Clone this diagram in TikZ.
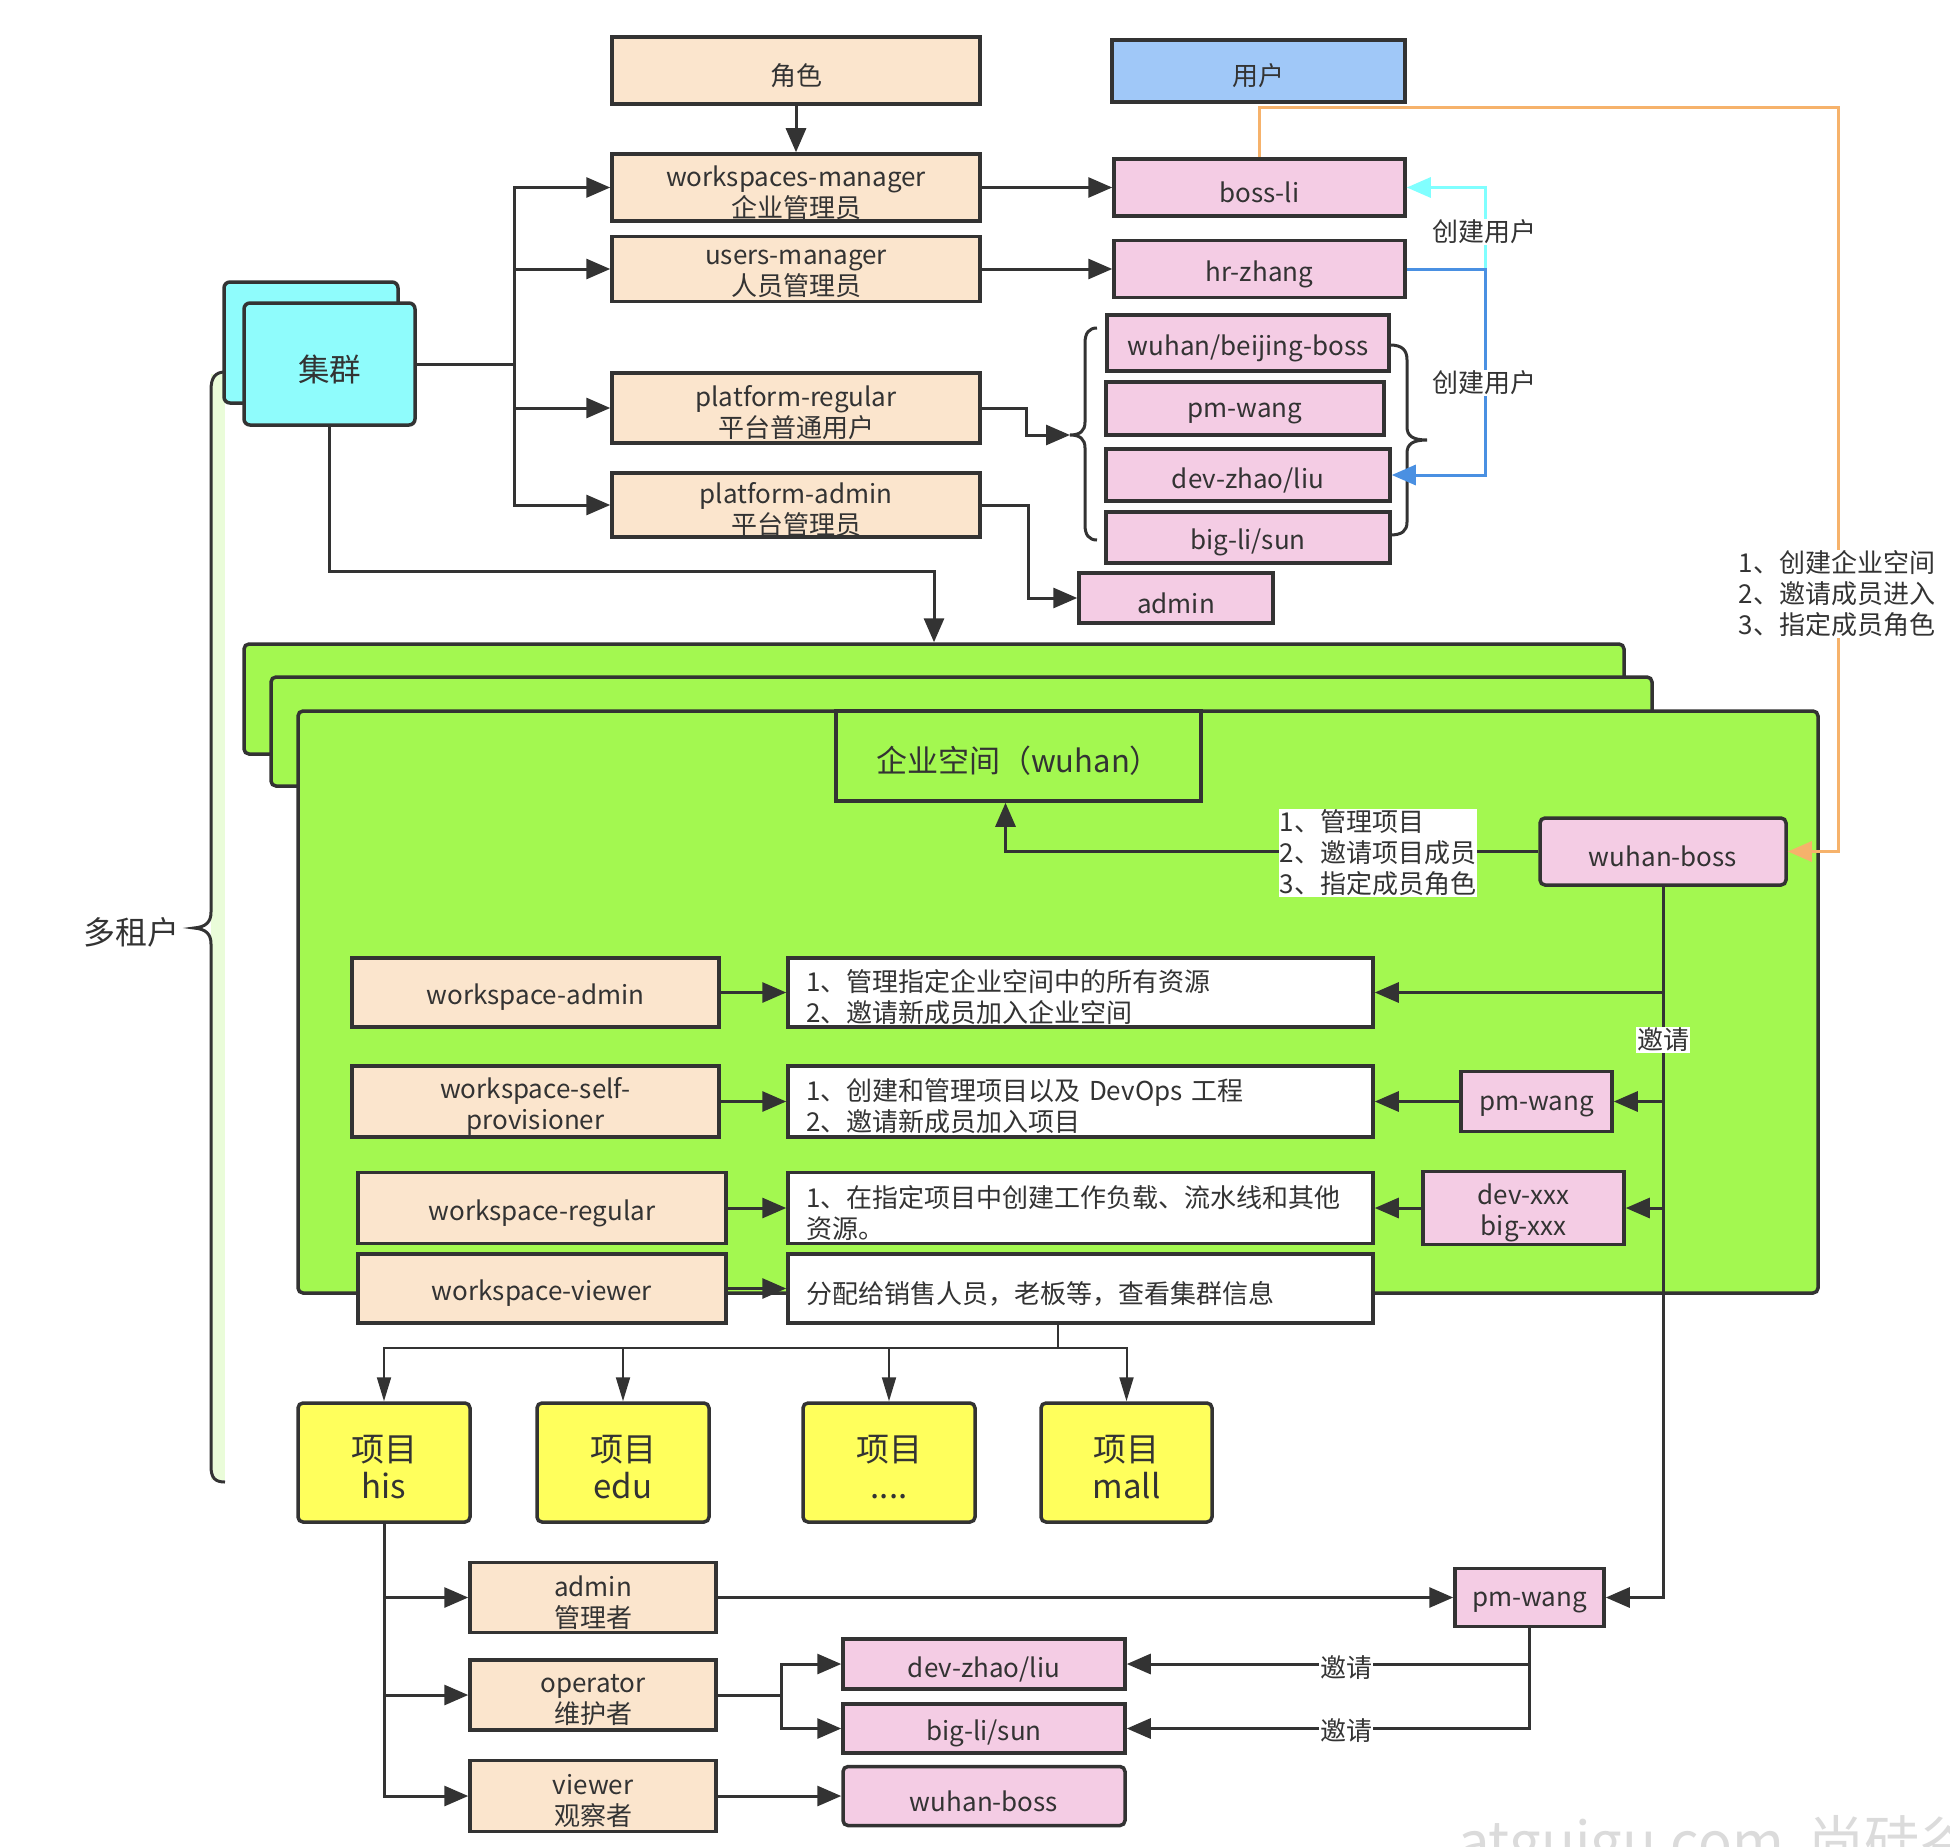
\documentclass[tikz,border=0pt]{standalone}
\usepackage{fontspec}
\setmainfont{Noto Sans CJK SC}
\usetikzlibrary{arrows.meta}
\definecolor{lc}{HTML}{333333}
\definecolor{tc}{HTML}{333333}
\definecolor{peach}{HTML}{FBE5CD}
\definecolor{pinkc}{HTML}{F4CCE4}
\definecolor{userblue}{HTML}{A0C8F8}
\definecolor{cyanc}{HTML}{8FFCFC}
\definecolor{greenc}{HTML}{A3F850}
\definecolor{yellowc}{HTML}{FFFF5C}
\definecolor{strip}{HTML}{EAFCD9}
\definecolor{orangel}{HTML}{F6B26B}
\definecolor{cyanl}{HTML}{80FFFF}
\definecolor{bluel}{HTML}{4A90E2}
\tikzset{
  sz/.style 2 args={minimum width=#1pt, minimum height=#2pt},
  box/.style={draw=lc, line width=3.5pt, inner sep=0pt, align=center, text=tc,
    font=\fontsize{26}{31}\selectfont},
  peachbox/.style={box, fill=peach},
  pinkbox/.style={box, fill=pinkc},
  whitebox/.style={box, fill=white, align=left, text width=#1pt},
  greenbox/.style={box, fill=greenc, rounded corners=5pt},
  projbox/.style={box, fill=yellowc, rounded corners=5pt, font=\fontsize{33}{37}\selectfont},
  lbl/.style={fill=white, inner sep=1pt, text=tc, align=left, font=\fontsize{26}{31}\selectfont},
  ln/.style={draw=lc, line width=3pt},
  arr/.style={draw=lc, line width=3pt, -{Triangle[length=24pt,width=20pt]}},
  tarr/.style={draw=lc, line width=2pt, -{Triangle[length=24pt,width=14pt]}},
}
% #1 style, #2 name, #3 x, #4 y, #5 w, #6 h, #7 text
\newcommand{\mkbox}[7]{%
  \node[#1, sz={#5}{#6}] (#2) at (#3,#4) {};
  \node[#1, draw=none, fill=none, inner sep=0pt] (#2-t) at ([yshift=-5pt]#2.center) {#7};
}
\begin{document}
\begin{tikzpicture}[x=1pt,y=-1pt]
\useasboundingbox (0,0) rectangle (1950,1846);
\fill[white] (0,0) rectangle (1950,1846);

% watermark
\begin{scope}
\clip (0,0) rectangle (1950,1846);
\node[anchor=base west, text=black!14, font=\fontsize{56}{60}\selectfont, inner sep=0pt] (wm) at (1458,1862) {atguigu.com\ \ 尚硅谷};
\end{scope}

% multi-tenant brace
\fill[strip] (211,374) rectangle (225,1480);
\draw[lc, line width=3pt] (225,372) .. controls (215,372) and (211,378) .. (211,390) -- (211,912)
  .. controls (211,922) and (206,927) .. (194,928) .. controls (206,929) and (211,934) .. (211,944)
  -- (211,1466) .. controls (211,1478) and (215,1482) .. (225,1482);
\node[text=tc, font=\fontsize{32}{36}\selectfont] (mt) at (131,932) {多租户};

% cluster
\draw[draw=lc, line width=3.5pt, fill=cyanc, rounded corners=6pt] (224,282) rectangle (398,403);
\mkbox{box, fill=cyanc, rounded corners=6pt, font=\fontsize{31.5}{36}\selectfont}{cl}{329.5}{364}{171}{122}{集群}

% top role column
\mkbox{peachbox}{role}{796}{70.5}{368}{67}{角色}
\mkbox{box, fill=userblue}{user}{1258.5}{71}{293}{62}{用户}
\mkbox{peachbox}{wsm}{796}{187.5}{368}{67}{workspaces-manager\\企业管理员}
\mkbox{peachbox}{usm}{796}{269}{368}{65}{users-manager\\人员管理员}
\mkbox{peachbox}{preg}{796}{408}{368}{70}{platform-regular\\平台普通用户}
\mkbox{peachbox}{padm}{796}{505}{368}{64}{platform-admin\\平台管理员}

% users
\mkbox{pinkbox}{bossli}{1259.5}{187.5}{291}{57}{boss-li}
\mkbox{pinkbox}{hrzhang}{1259.5}{269}{291}{57}{hr-zhang}
\mkbox{pinkbox}{wbb}{1248}{343}{282}{56}{wuhan/beijing-boss}
\mkbox{pinkbox}{pmw1}{1245}{408.5}{278}{53}{pm-wang}
\mkbox{pinkbox}{dzl1}{1248}{475}{284}{52}{dev-zhao/liu}
\mkbox{pinkbox}{bls1}{1248}{537.5}{284}{51}{big-li/sun}
\mkbox{pinkbox}{admin1}{1176}{598}{194}{50}{admin}

% braces around users
\draw[lc, line width=3pt] (1097,328) .. controls (1089,328) and (1085,333) .. (1085,343) -- (1085,422)
  .. controls (1085,431) and (1080,435) .. (1070,435) .. controls (1080,435) and (1085,439) .. (1085,448)
  -- (1085,525) .. controls (1085,535) and (1089,540) .. (1097,540);
\draw[lc, line width=3pt] (1390,345) .. controls (1402,345) and (1407,350) .. (1407,360) -- (1407,427)
  .. controls (1407,436) and (1413,440) .. (1427,440) .. controls (1413,440) and (1407,444) .. (1407,453)
  -- (1407,522) .. controls (1407,531) and (1402,535) .. (1390,535);
\coordinate (ltip) at (1070,435);

% top connectors
\coordinate (hub) at (514,364);
\draw[ln] (cl.east) -- (hub);
\draw[arr] (hub) |- (wsm.west);
\draw[arr] (hub) |- (usm.west);
\draw[arr] (hub) |- (preg.west);
\draw[arr] (hub) |- (padm.west);
\draw[arr] (role.south) -- (wsm.north);
\draw[arr] (wsm.east) -- (bossli.west);
\draw[arr] (usm.east) -- (hrzhang.west);
\draw[arr] (preg.east) -- ++(45,0) |- (ltip);
\draw[arr] (padm.east) -- ++(47,0) |- (admin1.west);

\draw[cyanl, line width=3pt, -{Triangle[length=24pt,width=20pt]}] (hrzhang.east) -- ++(79,0) |- (bossli.east);
\draw[bluel, line width=3pt, -{Triangle[length=24pt,width=20pt]}] (hrzhang.east) -- ++(79,0) |- (dzl1.east);
\node[lbl] (cu1) at (1484,232) {创建用户};
\node[lbl] (cu2) at (1484,383) {创建用户};

% workspaces (green)
\node[greenbox, sz={1380}{110}] (g1) at (934,699) {};
\node[greenbox, sz={1381}{109}] (g2) at (961.5,731.5) {};
\node[greenbox, sz={1520}{582}] (g3) at (1058,1002) {};
\mkbox{box, fill=greenc, font=\fontsize{31}{35}\selectfont}{wsbox}{1018.5}{756}{365}{90}{企业空间（wuhan）}

\coordinate (c1) at (934,571);
\draw[arr] (cl.south) |- (c1) -- (g1.north);

\mkbox{pinkbox, rounded corners=5pt}{wboss}{1663}{851.5}{246}{67}{wuhan-boss}

% orange connector
\coordinate (oc) at (1838,108);
\draw[orangel, line width=3pt, -{Triangle[length=24pt,width=20pt]}] (bossli.north) |- (oc) |- (wboss.east);
\node[lbl] (olbl) at (1837,594) {1、创建企业空间\\2、邀请成员进入\\3、指定成员角色};

\draw[arr] (wboss.west) -| ([xshift=-13pt]wsbox.south);
\node[lbl] (wlbl) at (1378,853) {1、管理项目\\2、邀请项目成员\\3、指定成员角色};

% role rows
\mkbox{peachbox}{wsa}{535.5}{992.5}{367}{69}{workspace-admin}
\mkbox{peachbox}{wssp}{535.5}{1101.5}{367}{71}{workspace-self-\\provisioner}
\mkbox{peachbox}{wsr}{542}{1208}{368}{71}{workspace-regular}
\mkbox{peachbox}{wsv}{542}{1288.5}{368}{69}{workspace-viewer}

\mkbox{whitebox=549}{t1}{1080.5}{992.5}{585}{69}{1、管理指定企业空间中的所有资源\\2、邀请新成员加入企业空间}
\mkbox{whitebox=549}{t2}{1080.5}{1101.5}{585}{71}{1、创建和管理项目以及 DevOps 工程\\2、邀请新成员加入项目}
\mkbox{whitebox=549}{t3}{1080.5}{1208}{585}{71}{1、在指定项目中创建工作负载、流水线和其他\\资源。}
\mkbox{whitebox=549}{t4}{1080.5}{1288.5}{585}{69}{分配给销售人员，老板等，查看集群信息}

\mkbox{pinkbox}{pmw2}{1536.5}{1101.5}{151}{60}{pm-wang}
\mkbox{pinkbox}{dx}{1523.5}{1208}{201}{73}{dev-xxx\\big-xxx}

\draw[arr] (wsa.east) -- (t1.west);
\draw[arr] (wssp.east) -- (t2.west);
\draw[arr] (wsr.east) -- (t3.west);
\draw[arr] (wsv.east) -- (t4.west);
\draw[arr] (pmw2.west) -- (t2.east);
\draw[arr] (dx.west) -- (t3.east);

% projects
\mkbox{projbox}{p1}{384}{1462.5}{172}{119}{项目\\his}
\mkbox{projbox}{p2}{623}{1462.5}{172}{119}{项目\\edu}
\mkbox{projbox}{p3}{889}{1462.5}{172}{119}{项目\\....}
\mkbox{projbox}{p4}{1126.5}{1462.5}{171}{119}{项目\\mall}

\coordinate (bus) at (1058,1348);
\draw[draw=lc, line width=2pt] ([xshift=-22.5pt]t4.south) -- (bus);
\draw[tarr] (bus) -| (p1.north);
\draw[tarr] (bus) -| (p2.north);
\draw[tarr] (bus) -| (p3.north);
\draw[tarr] (bus) -| (p4.north);

% project roles
\mkbox{peachbox}{adm2}{593}{1597.5}{246}{70}{admin\\管理者}
\mkbox{peachbox}{opr}{593}{1695}{246}{70}{operator\\维护者}
\mkbox{peachbox}{vwr}{593}{1796}{246}{71}{viewer\\观察者}
\mkbox{pinkbox}{pmw3}{1529.5}{1597.5}{149}{58}{pm-wang}
\mkbox{pinkbox}{dzl2}{984}{1664}{282}{50}{dev-zhao/liu}
\mkbox{pinkbox}{bls2}{984}{1728.5}{282}{49}{big-li/sun}
\mkbox{pinkbox, rounded corners=5pt}{wb2}{984}{1796}{282}{59}{wuhan-boss}

\draw[arr] (p1.south) |- (adm2.west);
\draw[arr] (p1.south) |- (opr.west);
\draw[arr] (p1.south) |- (vwr.west);
\draw[arr] (adm2.east) -- (pmw3.west);
\draw[arr] (opr.east) -- ++(64,0) |- (dzl2.west);
\draw[arr] (opr.east) -- ++(64,0) |- (bls2.west);
\draw[arr] (vwr.east) -- (wb2.west);
\draw[arr] (pmw3.south) |- (dzl2.east);
\draw[arr] (pmw3.south) |- (bls2.east);
\node[lbl] (inv2) at (1346,1668) {邀请};
\node[lbl] (inv3) at (1346,1731) {邀请};

% wuhan-boss invites
\draw[arr] (wboss.south) |- (pmw3.east);
\draw[arr] (wboss.south |- t1.east) -- (t1.east);
\draw[arr] (wboss.south |- pmw2.east) -- (pmw2.east);
\draw[arr] (wboss.south |- dx.east) -- (dx.east);
\node[lbl] (inv1) at (1663,1040) {邀请};
\end{tikzpicture}
\end{document}
